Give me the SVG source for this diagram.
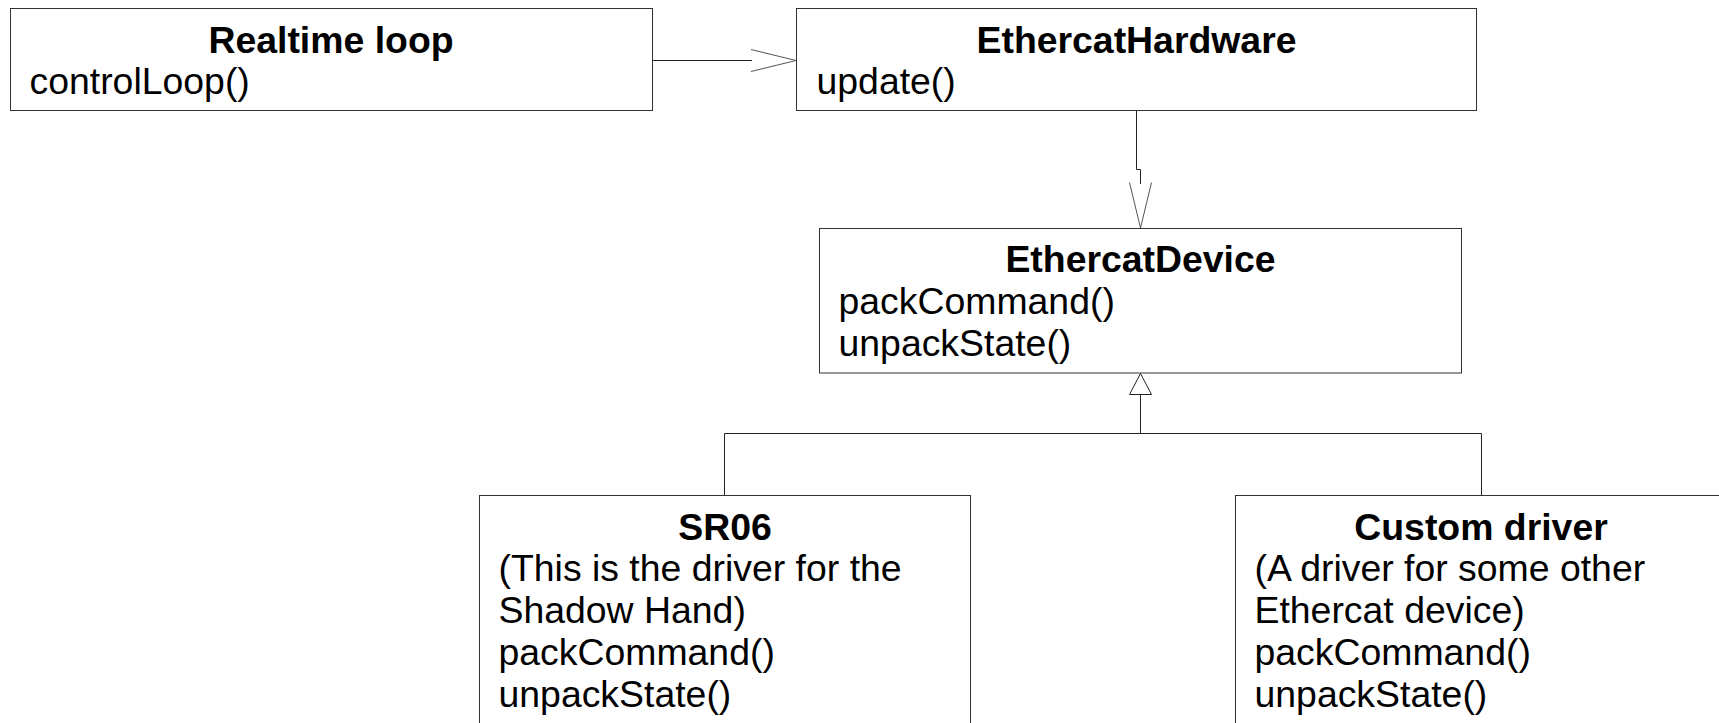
<svg xmlns="http://www.w3.org/2000/svg" width="1719" height="723" viewBox="0 0 1719 723">
<style>
.box{fill:#fff;stroke:#333;stroke-width:1}
.t{font-family:"Liberation Sans",Arial,sans-serif;font-size:37.4px;fill:#000}
.b{font-weight:bold;text-anchor:middle}
.c{fill:none;stroke:#222;stroke-width:1}
.ah{fill:none;stroke:#555;stroke-width:1}
.gen{fill:#fff;stroke:#222;stroke-width:1}
</style>
<rect width="1719" height="723" fill="#fff"/>
<g id="realtime-loop">
<rect class="box" x="10.5" y="8.5" width="642" height="102"/>
<text class="t b" x="331" y="52.5">Realtime loop</text>
<text class="t" x="29.5" y="94">controlLoop()</text>
</g>
<g id="ethercat-hardware">
<rect class="box" x="796.5" y="8.5" width="680" height="102"/>
<text class="t b" x="1136.5" y="52.5">EthercatHardware</text>
<text class="t" x="816.5" y="94">update()</text>
</g>
<g id="ethercat-device">
<rect class="box" x="819.5" y="228.5" width="642" height="144.5"/>
<text class="t b" x="1140.5" y="272">EthercatDevice</text>
<text class="t" x="838.5" y="313.7">packCommand()</text>
<text class="t" x="838.5" y="355.5">unpackState()</text>
</g>
<g id="sr06">
<rect class="box" x="479.5" y="495.5" width="491" height="260"/>
<text class="t b" x="725" y="539.5">SR06</text>
<text class="t" x="498.5" y="581">(This is the driver for the</text>
<text class="t" x="498.5" y="623">Shadow Hand)</text>
<text class="t" x="498.5" y="665">packCommand()</text>
<text class="t" x="498.5" y="707">unpackState()</text>
</g>
<g id="custom-driver">
<rect class="box" x="1235.5" y="495.5" width="492" height="260"/>
<text class="t b" x="1481" y="539.5">Custom driver</text>
<text class="t" x="1254.5" y="581">(A driver for some other</text>
<text class="t" x="1254.5" y="623">Ethercat device)</text>
<text class="t" x="1254.5" y="665">packCommand()</text>
<text class="t" x="1254.5" y="707">unpackState()</text>
</g>
<g id="connectors">
<path class="c" d="M652.5,60.5 H752"/>
<path class="ah" d="M751,49.5 L796,60.5 L751,71.5"/>
<path class="c" d="M1136.5,111 V169.5 H1140.5 V184"/>
<path class="ah" d="M1129.5,182.5 L1140.5,228 L1151.5,182.5"/>
<path class="gen" d="M1140.5,373.5 L1129.5,394.5 H1151.5 Z"/>
<path class="c" d="M1140.5,394.5 V433.5 M724.5,433.5 H1481.5 M724.5,433.5 V495.5 M1481.5,433.5 V495.5"/>
</g>
</svg>
